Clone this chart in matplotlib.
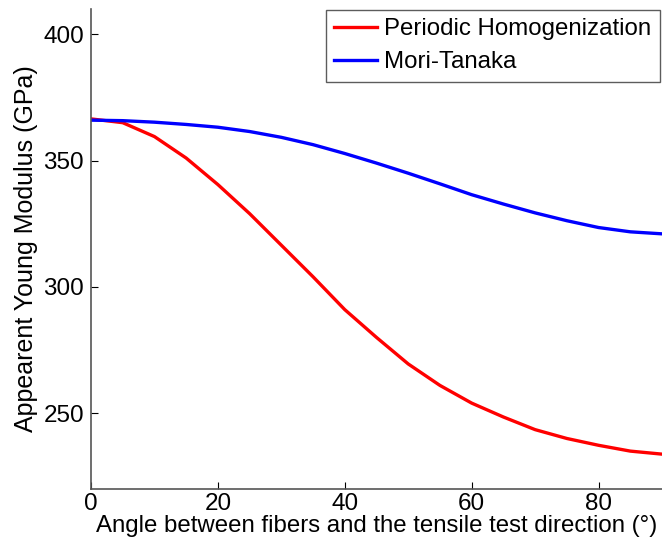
import matplotlib
matplotlib.use("Agg")
import matplotlib.pyplot as plt

angles = [0, 5, 10, 15, 20, 25, 30, 35, 40, 45, 50, 55, 60, 65, 70, 75, 80, 85, 90]
periodic = [366.5, 365, 359.5, 351, 340.5, 329, 316.5, 304, 291, 280, 269.5, 261, 254,
            248.5, 243.5, 240, 237.3, 235, 233.8]
mori_tanaka = [366, 365.8, 365.2, 364.3, 363.2, 361.5, 359.2, 356.3, 352.8, 349, 345,
               340.8, 336.5, 332.8, 329.3, 326.2, 323.5, 321.8, 321]
xticks = [0, 20, 40, 60, 80]
yticks = [250, 300, 350, 400]

plt.rcParams['font.family'] = ['Liberation Sans', 'DejaVu Sans']

fig = plt.figure(figsize=(6.62, 5.45), dpi=100)
ax = fig.add_axes([91/662, 56/545, 1 - 91/662, (489-9)/545])

ax.plot(angles, periodic, color='#ff0000', lw=2.4, label='Periodic Homogenization')
ax.plot(angles, mori_tanaka, color='#0000ff', lw=2.4, label='Mori-Tanaka')

ax.set_xlim(0, 90)
ax.set_ylim(220, 410)
ax.set_xticks(xticks)
ax.set_yticks(yticks)
ax.tick_params(direction='in', length=5, width=0.8, labelsize=17.5, colors='#000000')
ax.tick_params(axis='y', pad=5)
ax.tick_params(axis='x', pad=3)
for s in ['top', 'right']:
    ax.spines[s].set_visible(False)
for s in ['left', 'bottom']:
    ax.spines[s].set_color('#555555')
    ax.spines[s].set_linewidth(1.2)

ax.set_xlabel('Angle between fibers and the tensile test direction (°)', fontsize=17.3, labelpad=0)
ax.set_ylabel('Appearent Young Modulus (GPa)', fontsize=18, labelpad=4)

leg = ax.legend(loc='upper right', bbox_to_anchor=(660/662, 1 - 10/545),
                bbox_transform=fig.transFigure, fontsize=17.3, frameon=True, fancybox=False,
                edgecolor='#333333', handlelength=1.8, handletextpad=0.3,
                borderpad=0.35, labelspacing=0.45, borderaxespad=0)
leg.get_frame().set_linewidth(1.0)

fig.savefig('out.png', dpi=100)
